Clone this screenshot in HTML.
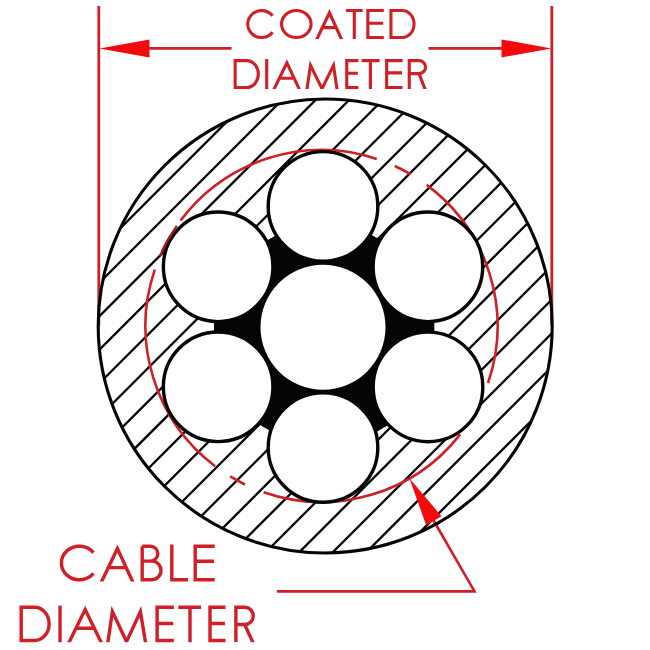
<!DOCTYPE html><html><head><meta charset="utf-8"><style>html,body{margin:0;padding:0;background:#fff;}svg{display:block}</style></head><body>
<svg width="650" height="650" viewBox="0 0 650 650">
<defs><clipPath id="outerclip"><circle cx="325.2" cy="326" r="227"/></clipPath><clipPath id="cb1"><rect x="0" y="-3" width="650" height="42.1"/></clipPath><clipPath id="cb2"><rect x="0" y="47.1" width="650" height="42"/></clipPath><clipPath id="cb3"><rect x="0" y="532.5" width="650" height="49"/></clipPath><clipPath id="cb4"><rect x="0" y="593.6" width="650" height="48.6"/></clipPath></defs>
<rect width="650" height="650" fill="#fff"/><g stroke="#d01f27" stroke-width="2.8" fill="none"><path d="M98.8 6V326M551.8 6V326"/><path d="M140 48.4H231.5M428.5 48.4H505"/></g><path d="M99.5 48.4L149.5 39.4L149.5 57.4Z" fill="#f20a0c"/><path d="M551.5 48.4L501.5 39.4L501.5 57.4Z" fill="#f20a0c"/><g clip-path="url(#outerclip)"><path d="M-485.58 700L264.42 -50M-452.05 700L297.95 -50M-418.52 700L331.48 -50M-384.99 700L365.01 -50M-351.46 700L398.54 -50M-317.93 700L432.07 -50M-284.4 700L465.6 -50M-250.87 700L499.13 -50M-217.34 700L532.66 -50M-183.81 700L566.19 -50M-150.28 700L599.72 -50M-116.75 700L633.25 -50M-83.22 700L666.78 -50M-49.69 700L700.31 -50M-16.16 700L733.84 -50M17.37 700L767.37 -50M50.9 700L800.9 -50M84.43 700L834.43 -50M117.96 700L867.96 -50M151.49 700L901.49 -50M185.02 700L935.02 -50M218.55 700L968.55 -50M252.08 700L1002.08 -50M285.61 700L1035.61 -50M319.14 700L1069.14 -50M352.67 700L1102.67 -50M386.2 700L1136.2 -50" stroke="#050505" stroke-width="2.3" fill="none"/></g><polygon points="324.15,207.55 213.95,271.18 213.95,398.43 324.15,462.05 434.35,398.43 434.35,271.18" fill="#050505"/><path d="M376.76 158.9A176 176 0 0 0 180.57 220.57M410.56 174.2A176 176 0 0 0 394.77 165.97M154.79 269.57A176 176 0 0 0 215.09 466.19M170.32 235.88A176 176 0 0 0 161.99 251.62M263.62 492.21A176 176 0 0 0 460.19 434.36M230.2 476.46A176 176 0 0 0 244.9 484.46M488.01 383.01A176 176 0 0 0 426.68 184.89M471.56 417.96A176 176 0 0 0 480.36 401.77" stroke="#d01f27" stroke-width="2.6" fill="none"/><circle cx="323" cy="206.4" r="54.8" fill="#fff" stroke="#050505" stroke-width="3.4"/><circle cx="218.15" cy="266.8" r="54.8" fill="#fff" stroke="#050505" stroke-width="3.4"/><circle cx="218.15" cy="386.8" r="54.8" fill="#fff" stroke="#050505" stroke-width="3.4"/><circle cx="323" cy="447.5" r="54.8" fill="#fff" stroke="#050505" stroke-width="3.4"/><circle cx="428" cy="386.9" r="54.8" fill="#fff" stroke="#050505" stroke-width="3.4"/><circle cx="427.9" cy="266.8" r="54.8" fill="#fff" stroke="#050505" stroke-width="3.4"/><circle cx="323" cy="327.2" r="62.5" fill="#fff"/><path d="M176.8 225.81A176 176 0 0 0 159.73 256.67" stroke="#a3191f" stroke-width="2.2" fill="none"/><path d="M431 516L474.5 591.4H276.9" stroke="#d01f27" stroke-width="2.6" fill="none" stroke-linejoin="miter"/><path d="M409.4 478.3L441.5 516.2L426.2 525.2Z" fill="#f20a0c"/><circle cx="325.2" cy="326" r="227" fill="none" stroke="#050505" stroke-width="3.1"/><g fill="none" stroke="#d01f27" stroke-linejoin="miter" stroke-miterlimit="12"><path d="M272.57 15.81A13.85 13.5 0 1 0 272.57 32.29" stroke-width="3.1"/><path d="M281.55 24.05a14.75 13.5 0 1 0 29.5 0a14.75 13.5 0 1 0 -29.5 0" stroke-width="3.1"/><path d="M346 10.55H362.6M354.3 10.55V39.1" stroke-width="3.1"/><path d="M383.8 10.55H367.85V37.55H383.8M367.85 23.2H383.2" stroke-width="3.1"/><path d="M390.95 10.55H402.17A11.88 13.5 0 0 1 402.17 37.55H390.95Z" stroke-width="3.1"/><g clip-path="url(#cb1)"><path d="M315.49 42.1L329.4 12.75L342.86 42.1M322.36 27.6H336.21" stroke-width="3.1"/></g></g><g fill="none" stroke="#d01f27" stroke-linejoin="miter" stroke-miterlimit="12"><path d="M235.15 60.65H246.51A11.84 13.45 0 0 1 246.51 87.55H235.15Z" stroke-width="3.1"/><path d="M266.7 59.1V89.1" stroke-width="3.1"/><path d="M358.4 60.65H346.75V87.55H358.4M346.75 73.2H357.8" stroke-width="3.1"/><path d="M361.6 60.65H379.6M370.4 60.65V89.1" stroke-width="3.1"/><path d="M402.6 60.65H386.65V87.55H402.6M386.65 72.9H402" stroke-width="3.1"/><g clip-path="url(#cb2)"><path d="M272.56 92.1L286.9 62.73L300.68 92.1M279.3 78.3H294.21" stroke-width="3.1"/><path d="M306.56 92.1L310.5 65.29L322 88.6L333.5 65.29L337.44 92.1" stroke-width="3.1"/><path d="M409.25 89.1V60.65H419.07A6.47 6.47 0 0 1 419.07 73.6H409.25M419.07 73.6L426.15 92.1" stroke-width="3.1"/></g></g><g fill="none" stroke="#d01f27" stroke-linejoin="miter" stroke-miterlimit="12"><path d="M93.46 552.66A17.93 16.8 0 1 0 93.46 573.34" stroke-width="3.4"/><path d="M142.2 561.1H150.35A7.45 7.45 0 0 0 150.35 546.2H142.2M142.2 561.1H151.65A9.35 9.35 0 0 1 151.65 579.8H142.2ZM142.2 546.2V579.8" stroke-width="3.4"/><path d="M171.8 544.5V579.8H188.1" stroke-width="3.4"/><path d="M214.7 546.2H195.2V579.8H214.7M195.2 561.3H214.1" stroke-width="3.4"/><g clip-path="url(#cb3)"><path d="M100.25 584.5L117.4 548.55L134 584.5M108.31 567.6H126.2" stroke-width="3.4"/></g></g><g fill="none" stroke="#d01f27" stroke-linejoin="miter" stroke-miterlimit="12"><path d="M21.2 607.3H34.49A14.61 16.6 0 0 1 34.49 640.5H21.2Z" stroke-width="3.4"/><path d="M60.05 605.6V642.2" stroke-width="3.4"/><path d="M173.8 607.3H157.1V640.5H173.8M157.1 623.5H173.2" stroke-width="3.4"/><path d="M178.3 607.3H201M190 607.3V642.2" stroke-width="3.4"/><path d="M225.5 607.3H210V640.5H225.5M210 623.5H224.9" stroke-width="3.4"/><g clip-path="url(#cb4)"><path d="M67.62 645.2L85.2 609.52L102.57 645.2M75.94 628.3H94.34" stroke-width="3.4"/><path d="M107.46 645.2L112.4 611.61L126.5 641.7L140.4 611.61L146 645.2" stroke-width="3.4"/><path d="M235.9 642.2V607.3H244.7A8.6 8.6 0 0 1 244.7 624.5H235.9M244.7 624.5L254.17 645.2" stroke-width="3.4"/></g></g>
</svg></body></html>
